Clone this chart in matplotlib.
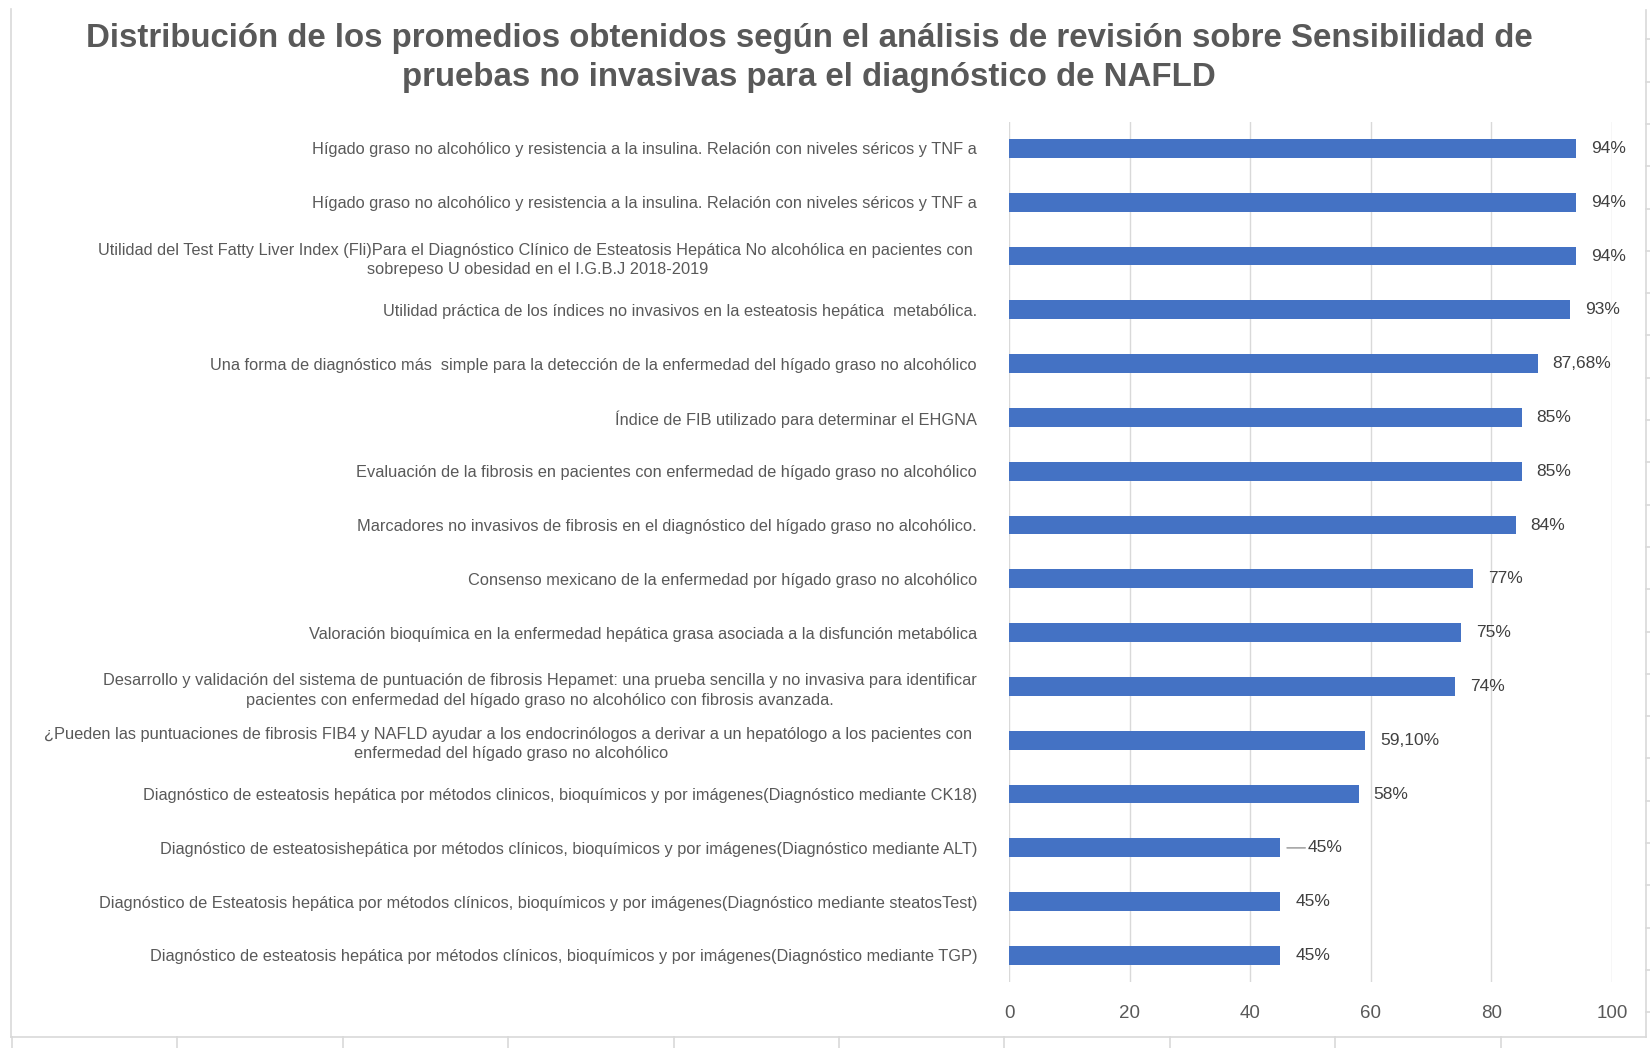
#!/usr/bin/env python
# -*- coding: utf-8 -*-

import matplotlib
matplotlib.use('Agg')  # backend sin pantalla
import matplotlib.pyplot as plt
from matplotlib.lines import Line2D

plt.rcParams["font.family"] = ["Liberation Sans", "DejaVu Sans"]

# Datos del gráfico (de arriba hacia abajo)
estudios = [
    "Hígado graso no alcohólico y resistencia a la insulina. Relación con niveles séricos y TNF a",
    "Hígado graso no alcohólico y resistencia a la insulina. Relación con niveles séricos y TNF a",
    "Utilidad del Test Fatty Liver Index (Fli)Para el Diagnóstico Clínico de Esteatosis Hepática No alcohólica en pacientes con \n"
    "sobrepeso U obesidad en el I.G.B.J 2018-2019",
    "Utilidad práctica de los índices no invasivos en la esteatosis hepática  metabólica.",
    "Una forma de diagnóstico más  simple para la detección de la enfermedad del hígado graso no alcohólico",
    "Índice de FIB utilizado para determinar el EHGNA",
    "Evaluación de la fibrosis en pacientes con enfermedad de hígado graso no alcohólico",
    "Marcadores no invasivos de fibrosis en el diagnóstico del hígado graso no alcohólico.",
    "Consenso mexicano de la enfermedad por hígado graso no alcohólico",
    "Valoración bioquímica en la enfermedad hepática grasa asociada a la disfunción metabólica",
    "Desarrollo y validación del sistema de puntuación de fibrosis Hepamet: una prueba sencilla y no invasiva para identificar\n"
    "pacientes con enfermedad del hígado graso no alcohólico con fibrosis avanzada.",
    "¿Pueden las puntuaciones de fibrosis FIB4 y NAFLD ayudar a los endocrinólogos a derivar a un hepatólogo a los pacientes con \n"
    "enfermedad del hígado graso no alcohólico",
    "Diagnóstico de esteatosis hepática por métodos clinicos, bioquímicos y por imágenes(Diagnóstico mediante CK18)",
    "Diagnóstico de esteatosishepática por métodos clínicos, bioquímicos y por imágenes(Diagnóstico mediante ALT)",
    "Diagnóstico de Esteatosis hepática por métodos clínicos, bioquímicos y por imágenes(Diagnóstico mediante steatosTest)",
    "Diagnóstico de esteatosis hepática por métodos clínicos, bioquímicos y por imágenes(Diagnóstico mediante TGP)",
]
sensibilidad = [94, 94, 94, 93, 87.68, 85, 85, 84, 77, 75, 74, 59.10, 58, 45, 45, 45]
etiquetas = ["94%", "94%", "94%", "93%", "87,68%", "85%", "85%", "84%",
             "77%", "75%", "74%", "59,10%", "58%", "45%", "45%", "45%"]
ticks_x = [0, 20, 40, 60, 80, 100]

titulo = ("Distribución de los promedios obtenidos según el análisis de revisión sobre Sensibilidad de\n"
          "pruebas no invasivas para el diagnóstico de NAFLD")

W, H = 1650, 1048
fig = plt.figure(figsize=(W / 100, H / 100), dpi=100)
fig.patch.set_facecolor('white')

# area de trazado en pixeles
x0, x1 = 1009, 1612
y0, y1 = 121.5, 982.4
ax = fig.add_axes([x0 / W, 1 - y1 / H, (x1 - x0) / W, (y1 - y0) / H])

n = len(estudios)
pos = list(range(n))
ax.barh(pos, sensibilidad, height=0.35, color='#4472C4', zorder=3)

ax.set_xlim(0, 100)
ax.set_ylim(n - 0.5, -0.5)
ax.set_xticks(ticks_x)
ax.set_yticks(pos)
ax.set_yticklabels(estudios, fontsize=11.75, color='#595959')
for t in ax.get_yticklabels():
    t.set_multialignment('center')
    t.set_linespacing(1.38)
ax.tick_params(axis='y', length=0, pad=23)
ax.tick_params(axis='x', length=0, pad=16, labelsize=13.5, labelcolor='#595959')

ax.grid(axis='x', color='#d9d9d9', linewidth=1.0, zorder=0)
for s in ax.spines.values():
    s.set_visible(False)

# etiquetas de datos
for i, (v, txt) in enumerate(zip(sensibilidad, etiquetas)):
    if i == 13:
        # etiqueta desplazada con linea guia
        ax.annotate(txt, xy=(v + 0.2, i), xytext=(19, 0), textcoords='offset points',
                    ha='left', va='center', fontsize=12.5, color='#404040',
                    arrowprops=dict(arrowstyle='-', color='#a6a6a6', lw=1.2,
                                    shrinkA=0, shrinkB=4))
    else:
        ax.annotate(txt, xy=(v, i), xytext=(10.8, 0), textcoords='offset points',
                    ha='left', va='center', fontsize=12.5, color='#404040')

# titulo
fig.text(809 / W, 1 - 58 / H, titulo, ha='center', va='center', fontsize=23.8,
         fontweight='bold', color='#595959', linespacing=1.32)


# bordes de la hoja de calculo
def linea(xa, ya, xb, yb):
    fig.add_artist(Line2D([xa / W, xb / W], [1 - ya / H, 1 - yb / H],
                          transform=fig.transFigure, color='#d9d9d9', lw=1.2))


linea(11, 9, 11, 1037)
linea(1646, 10, 1646, 1037)
linea(11, 1037, 1646, 1037)
for k in range(10):
    xk = 12 + 165.4 * k
    linea(xk, 1037, xk, H)
for k in range(24):
    yk = 39.3 + 42.3 * k
    if yk < 1037:
        linea(1646, yk, W, yk)

fig.savefig('out.png', dpi=100)
